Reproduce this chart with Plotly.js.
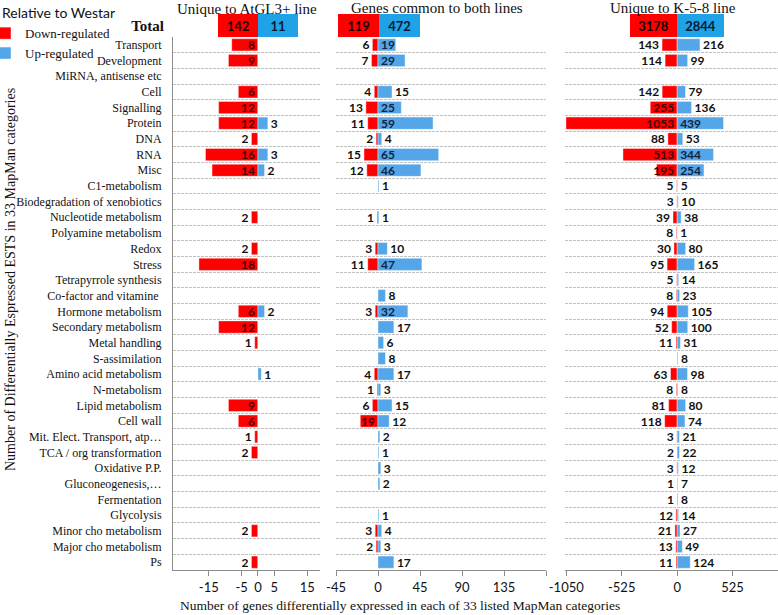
<!DOCTYPE html>
<html>
<head>
<meta charset="utf-8">
<script src="https://cdn.plot.ly/plotly-3.0.1.min.js"></script>
<style>html,body{margin:0;padding:0;background:#fff}#chart{width:778px;height:615px}</style>
</head>
<body>
<div id="chart"></div>
<script>
// ---------- data ----------
const categories = ["Transport","Development","MiRNA, antisense etc","Cell","Signalling","Protein","DNA","RNA","Misc","C1-metabolism","Biodegradation of xenobiotics","Nucleotide metabolism","Polyamine metabolism","Redox","Stress","Tetrapyrrole synthesis","Co-factor and vitamine ","Hormone metabolism","Secondary metabolism","Metal handling","S-assimilation","Amino acid metabolism","N-metabolism","Lipid metabolism","Cell wall","Mit. Elect. Transport, atp…","TCA / org transformation","Oxidative P.P.","Gluconeogenesis,…","Fermentation","Glycolysis","Minor cho metabolism","Major cho metabolism","Ps"];

const gl3Down    = [8,9,0,6,12,12,2,16,14,0,0,2,0,2,18,0,0,6,12,1,0,0,0,9,6,1,2,0,0,0,0,2,0,2];
const gl3Up      = [0,0,0,0,0,3,0,3,2,0,0,0,0,0,0,0,0,2,0,0,0,1,0,0,0,0,0,0,0,0,0,0,0,0];
const commonDown = [6,7,0,4,13,11,2,15,12,0,0,1,0,3,11,0,0,3,0,0,0,4,1,6,19,0,0,0,0,0,0,3,2,0];
const commonUp   = [19,29,0,15,25,59,4,65,46,1,0,1,0,10,47,0,8,32,17,6,8,17,3,15,12,2,1,3,2,0,1,4,3,17];
const k58Down    = [143,114,0,142,255,1053,88,513,195,5,3,39,8,30,95,5,8,94,52,11,0,63,8,81,118,3,2,3,1,1,12,21,13,11];
const k58Up      = [216,99,0,79,136,439,53,344,254,5,10,38,1,80,165,14,23,105,100,31,8,98,8,80,74,21,22,12,7,8,14,27,49,124];

const totalLabel = ["Total"];
const totalsDown = [142, 119, 3178];
const totalsUp   = [11, 472, 2844];

const panelTitles = ["Unique to AtGL3+ line", "Genes common to both lines", "Unique to K-5-8 line"];
const ticks1 = [-15, -5, 0, 5, 15];
const ticks2 = [-45, 0, 45, 90, 135, 180];
const ticks2Text = ["-45", "0", "45", "90", "135", ""];
const ticks3 = [-1050, -525, 0, 525];

// ---------- styling ----------
const W = 778, H = 615;
const RED = "#FF0000", BLUE = "#55A6E8", HBLUE = "#1FA2E6";
const numFont = "Lato, Open Sans, sans-serif";
const serif = "Liberation Serif, Times New Roman, serif";

const panels = [
  {down: gl3Down,    up: gl3Up,    s: "",  thrDown: 5,   thrUp: Infinity},
  {down: commonDown, up: commonUp, s: "2", thrDown: 18,  thrUp: 18},
  {down: k58Down,    up: k58Up,    s: "3", thrDown: 150, thrUp: 250}
];

const lbl = v => (v > 0 ? String(v) : "");
const traces = [];
panels.forEach((p, i) => {
  traces.push({
    type: "bar", orientation: "h", name: "Down-regulated", legendgroup: "d", showlegend: i === 0,
    y: categories, x: p.down.map(v => -v), text: p.down.map(lbl),
    textposition: p.down.map(v => (v >= p.thrDown ? "inside" : "outside")),
    insidetextanchor: "start", constraintext: "none", textangle: 0, cliponaxis: false,
    insidetextfont: {family: numFont, size: 12, color: "#4a0000", weight: "bold"},
    outsidetextfont: {family: numFont, size: 12, color: "#111", weight: "bold"},
    marker: {color: RED, line: {color: "#ffffff", width: 0.4}},
    xaxis: "x" + p.s, yaxis: "y" + p.s, hoverinfo: "skip"
  });
  traces.push({
    type: "bar", orientation: "h", name: "Up-regulated", legendgroup: "u", showlegend: i === 0,
    y: categories, x: p.up, text: p.up.map(lbl),
    textposition: p.up.map(v => (v >= p.thrUp ? "inside" : "outside")),
    insidetextanchor: "start", constraintext: "none", textangle: 0, cliponaxis: false,
    insidetextfont: {family: numFont, size: 12, color: "#10233f", weight: "bold"},
    outsidetextfont: {family: numFont, size: 12, color: "#111", weight: "bold"},
    marker: {color: BLUE, line: {color: "#ffffff", width: 0.4}},
    xaxis: "x" + p.s, yaxis: "y" + p.s, hoverinfo: "skip"
  });
  // header "Total" boxes (fixed-size boxes labelled with totals)
  const hx = "x" + (4 + i);
  traces.push({
    type: "bar", orientation: "h", showlegend: false, y: totalLabel, x: [-1], width: [1],
    text: [String(totalsDown[i])], textposition: "inside", insidetextanchor: "middle",
    constraintext: "none", textangle: 0,
    textfont: {family: numFont, size: 13, color: "#1a0000", weight: "bold"},
    marker: {color: RED}, xaxis: hx, yaxis: "y4", hoverinfo: "skip"
  });
  traces.push({
    type: "bar", orientation: "h", showlegend: false, y: totalLabel, x: [1], width: [1],
    text: [String(totalsUp[i])], textposition: "inside", insidetextanchor: "middle",
    constraintext: "none", textangle: 0,
    textfont: {family: numFont, size: 13, color: "#0a1a30", weight: "bold"},
    marker: {color: HBLUE}, xaxis: hx, yaxis: "y4", hoverinfo: "skip"
  });
});

const px = v => v / W;
const py = v => (H - v) / H;
const yDom = [py(570), py(37)];

const catAxis = (anchor, showLabels) => ({
  domain: yDom, anchor: anchor, type: "category",
  categoryorder: "array", categoryarray: categories,
  tickmode: "array", tickvals: categories, ticktext: categories,
  range: [categories.length - 0.5, -0.5],
  tickson: "boundaries", ticks: "", showgrid: true,
  gridcolor: "#c2c2c2", griddash: "3px,1px", gridwidth: 1,
  showticklabels: showLabels, ticklabelstandoff: 8,
  tickfont: {family: serif, size: 12, color: "#111"},
  showline: showLabels, linecolor: "#8c8c8c", linewidth: 1, zeroline: false
});
const valAxis = (anchor, dom, range, tv, tt) => ({
  domain: dom, anchor: anchor, range: range, tickvals: tv, ticktext: tt,
  showgrid: false, zeroline: false, showline: true, linecolor: "#8c8c8c", linewidth: 1,
  ticks: "outside", ticklen: 5, tickcolor: "#8c8c8c",
  tickfont: {family: numFont, size: 13, color: "#111"}
});
const hdrAxis = (dom, range) => ({domain: dom, anchor: "y4", range: range, visible: false, fixedrange: true});

const d1 = [px(173), px(320)], d2 = [px(336), px(546)], d3 = [px(565), 1];

const annFont = {family: serif, size: 15, color: "#111"};
const ann = (text, x, y, extra) => Object.assign({
  text: text, xref: "paper", yref: "paper", x: px(x), y: py(y),
  xanchor: "center", yanchor: "middle", showarrow: false, font: annFont
}, extra || {});

const layout = {
  width: W, height: H, margin: {l: 0, r: 0, t: 0, b: 0},
  paper_bgcolor: "#ffffff", plot_bgcolor: "rgba(0,0,0,0)",
  barmode: "relative", bargap: 0.22,
  xaxis:  valAxis("y",  d1, [-25.9, 18.9], ticks1, ticks1.map(String)),
  xaxis2: valAxis("y2", d2, [-45, 180], ticks2, ticks2Text),
  xaxis3: valAxis("y3", d3, [-1062, 955], ticks3, ticks3.map(String)),
  xaxis4: hdrAxis(d1, [-85 / 40, 62 / 40]),
  xaxis5: hdrAxis(d2, [-43 / 41, 167 / 41]),
  xaxis6: hdrAxis(d3, [-112 / 47, 101 / 47]),
  yaxis:  catAxis("x", true),
  yaxis2: Object.assign(catAxis("x2", false), {matches: "y"}),
  yaxis3: Object.assign(catAxis("x3", false), {matches: "y"}),
  yaxis4: {domain: [py(37), py(14)], anchor: "x4", type: "category", range: [-0.5, 0.5],
           showgrid: false, ticks: "", ticklabelstandoff: 8, showline: false, zeroline: false,
           tickfont: {family: serif, size: 15, color: "#111", weight: "bold"}},
  showlegend: true,
  legend: {x: 0, y: 1, xanchor: "left", yanchor: "top", bgcolor: "rgba(0,0,0,0)",
           orientation: "v", indentation: -15, tracegroupgap: 0, itemwidth: 30,
           title: {text: "Relative to Westar", font: {family: numFont, size: 14, color: "#111"}},
           font: {family: serif, size: 13, color: "#111"}},
  annotations: [
    ann(panelTitles[0], 247, 9),
    ann(panelTitles[1], 437, 8),
    ann(panelTitles[2], 673, 8),
    ann("Number of genes differentially expressed in each of 33 listed MapMan categories", 400, 605,
        {font: {family: serif, size: 13.5, color: "#111"}}),
    ann("Number of Differentially Espressed ESTS in 33 MapMan categories", 10, 280,
        {textangle: -90, font: {family: serif, size: 14, color: "#111"}})
  ]
};

Plotly.newPlot("chart", traces, layout, {displayModeBar: false, staticPlot: true});
</script>
</body>
</html>
